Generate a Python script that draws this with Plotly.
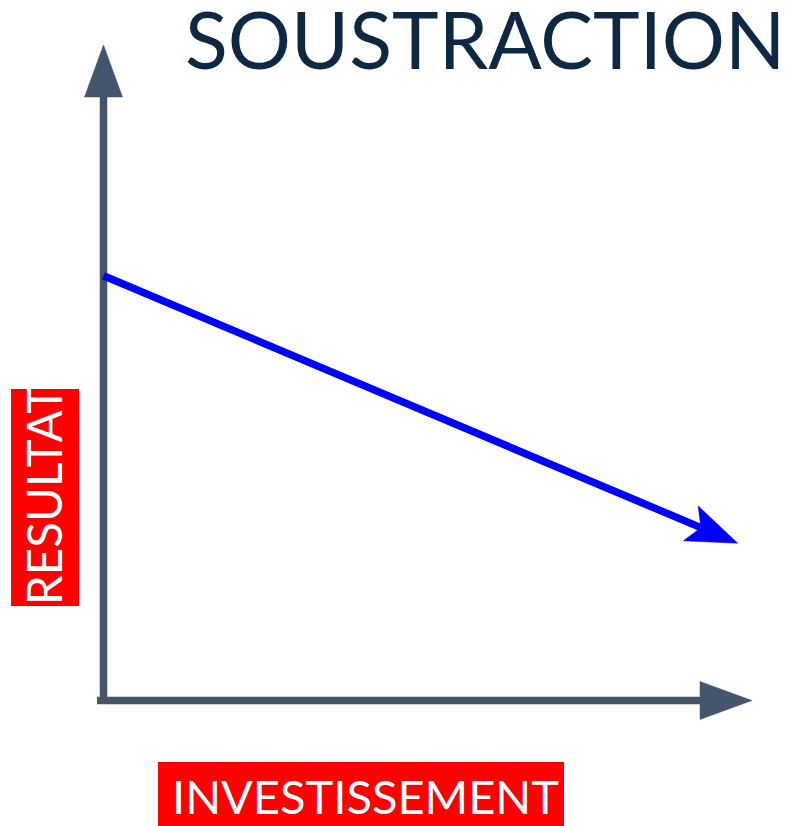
import numpy as np
import plotly.graph_objects as go

# ---------------- data ----------------
title_text = "SOUSTRACTION"
x_label = "INVESTISSEMENT"
y_label = "RESULTAT"

investissement = [0.0, 9.78]     # x values of the trend arrow
resultat = [6.48, 2.40]          # y values of the trend arrow

x_axis_extent = [-0.1, 10.0]     # drawn x axis (from, to)
y_axis_extent = [0.0, 10.0]      # drawn y axis (from, to)

# ---------------- layout constants ----------------
W, H = 786, 826
OX, OY = 103.5, 700.5            # pixel position of origin
SX, SY = 64.85, 65.55            # pixels per unit

xrange_ = [-OX / SX, (W - OX) / SX]
yrange_ = [-(H - OY) / SY, OY / SY]

AXIS_COLOR = "#44546A"
TREND_COLOR = "#0000FF"
TITLE_COLOR = "#0E2841"
LABEL_BG = "#FF0000"
FONT = "Lato"


def to_px(x, y):
    return np.array([OX + x * SX, OY - y * SY])


def to_data(p):
    return ((p[0] - OX) / SX, (OY - p[1]) / SY)


def arrow_head(start, end, length, half_w, notch=None):
    p0 = to_px(*start)
    p1 = to_px(*end)
    u = (p1 - p0) / np.linalg.norm(p1 - p0)
    n = np.array([-u[1], u[0]])
    base = p1 - length * u
    b1 = base + half_w * n
    b2 = base - half_w * n
    back = p1 - (notch if notch is not None else length) * u
    pts = [p1, b1, back, b2, p1]
    xs, ys = zip(*[to_data(p) for p in pts])
    return list(xs), list(ys), to_data(back)


fig = go.Figure()

# axes (lines + arrowheads)
ax_len, ax_hw = 52, 19
# x axis
hx, hy, back = arrow_head((x_axis_extent[0], 0), (x_axis_extent[1], 0), ax_len, ax_hw)
fig.add_trace(go.Scatter(x=[x_axis_extent[0], back[0]], y=[0, 0], mode="lines",
                         line=dict(color=AXIS_COLOR, width=7.5), hoverinfo="skip"))
fig.add_trace(go.Scatter(x=hx, y=hy, mode="lines", fill="toself", fillcolor=AXIS_COLOR,
                         line=dict(color=AXIS_COLOR, width=0.5), hoverinfo="skip"))
# y axis
hx, hy, back = arrow_head((0, y_axis_extent[0]), (0, y_axis_extent[1]), ax_len, ax_hw)
fig.add_trace(go.Scatter(x=[0, 0], y=[y_axis_extent[0] + 0.05, back[1]], mode="lines",
                         line=dict(color=AXIS_COLOR, width=7.5), hoverinfo="skip"))
fig.add_trace(go.Scatter(x=hx, y=hy, mode="lines", fill="toself", fillcolor=AXIS_COLOR,
                         line=dict(color=AXIS_COLOR, width=0.5), hoverinfo="skip"))

# trend arrow
hx, hy, back = arrow_head((investissement[0], resultat[0]), (investissement[1], resultat[1]),
                          51, 19, notch=40)
fig.add_trace(go.Scatter(x=[investissement[0], back[0]], y=[resultat[0], back[1]], mode="lines",
                         line=dict(color=TREND_COLOR, width=7.5), hoverinfo="skip"))
fig.add_trace(go.Scatter(x=hx, y=hy, mode="lines", fill="toself", fillcolor=TREND_COLOR,
                         line=dict(color=TREND_COLOR, width=0.5), hoverinfo="skip"))


def px_x(p):
    return p / W


def px_y(p):
    return 1 - p / H


# red label boxes
fig.add_shape(type="rect", xref="paper", yref="paper", x0=px_x(11), x1=px_x(79),
              y0=px_y(606), y1=px_y(389), fillcolor=LABEL_BG, line_width=0, layer="below")
fig.add_shape(type="rect", xref="paper", yref="paper", x0=px_x(158), x1=px_x(564),
              y0=px_y(826), y1=px_y(762), fillcolor=LABEL_BG, line_width=0, layer="below")

# texts
fig.add_annotation(text=title_text, xref="paper", yref="paper", x=1.0, y=px_y(38),
                   xanchor="right", yanchor="middle", showarrow=False, borderpad=0,
                   font=dict(family=FONT, size=79, color=TITLE_COLOR))
fig.add_annotation(text=y_label, xref="paper", yref="paper", x=px_x(43), y=px_y(496),
                   xanchor="center", yanchor="middle", showarrow=False, textangle=-90,
                   font=dict(family=FONT, size=47.5, color="white"))
fig.add_annotation(text=x_label, xref="paper", yref="paper", x=px_x(365), y=px_y(796),
                   xanchor="center", yanchor="middle", showarrow=False,
                   font=dict(family=FONT, size=47, color="white"))

fig.update_layout(
    width=W, height=H, autosize=False,
    margin=dict(l=0, r=0, t=0, b=0, pad=0),
    paper_bgcolor="white", plot_bgcolor="white",
    showlegend=False,
    xaxis=dict(range=xrange_, visible=False, fixedrange=True),
    yaxis=dict(range=yrange_, visible=False, fixedrange=True),
)

fig.write_html("out.html", config={"displayModeBar": False},
               post_script="document.body.style.margin='0px';")
